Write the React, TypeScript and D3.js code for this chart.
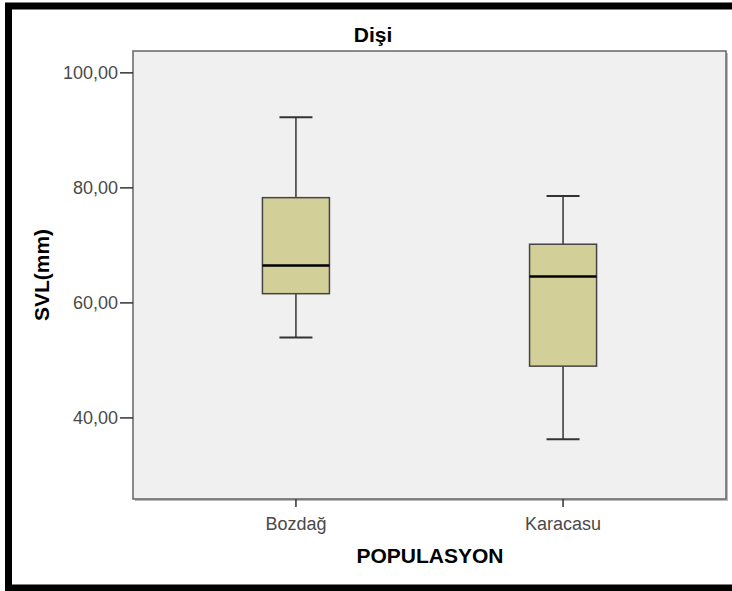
import React, { useEffect, useRef } from "react";
import * as d3 from "d3";

const categories = ["Bozdağ", "Karacasu"];
const whiskerLow = [54.0, 36.3];
const q1 = [61.6, 49.0];
const median = [66.5, 64.6];
const q3 = [78.3, 70.2];
const whiskerHigh = [92.3, 78.6];
const yTicks = [40, 60, 80, 100];

const App = () => {
  const svgRef = useRef<SVGSVGElement>(null);

  useEffect(() => {
    const W = 732;
    const plot = { left: 133, top: 51, right: 726, bottom: 499 };
    const font = "'Liberation Sans', Arial, sans-serif";

    const svg = d3.select(svgRef.current);
    svg.selectAll("*").remove();

    // outer frame (right edge falls outside the picture)
    svg
      .append("rect")
      .attr("x", 8.5)
      .attr("y", 6)
      .attr("width", W + 40)
      .attr("height", 582)
      .attr("fill", "white")
      .attr("stroke", "black")
      .attr("stroke-width", 7);

    const y = d3.scaleLinear().domain([25.9, 103.8]).range([plot.bottom, plot.top]);
    const x = d3
      .scalePoint()
      .domain(categories)
      .range([plot.left, plot.right])
      .padding(0.61);

    // plot area with a little shadow on right / bottom
    svg
      .append("path")
      .attr("d", `M${plot.right + 1},${plot.top + 2}V${plot.bottom + 1}H${plot.left + 2}`)
      .attr("fill", "none")
      .attr("stroke", "#bbb")
      .attr("stroke-width", 2);
    svg
      .append("rect")
      .attr("x", plot.left)
      .attr("y", plot.top)
      .attr("width", plot.right - plot.left)
      .attr("height", plot.bottom - plot.top)
      .attr("fill", "#f0f0f0")
      .attr("stroke", "#666")
      .attr("stroke-width", 1.5);

    // y axis ticks
    const yAxis = svg.append("g");
    yTicks.forEach((t) => {
      yAxis
        .append("line")
        .attr("x1", plot.left - 13)
        .attr("x2", plot.left)
        .attr("y1", y(t))
        .attr("y2", y(t))
        .attr("stroke", "#333")
        .attr("stroke-width", 1.5);
      yAxis
        .append("text")
        .attr("x", plot.left - 15)
        .attr("y", y(t))
        .attr("dy", "0.36em")
        .attr("text-anchor", "end")
        .attr("font-family", font)
        .attr("font-size", 18)
        .attr("fill", "#4a4a4a")
        .text(d3.format(".2f")(t).replace(".", ","));
    });

    // x axis ticks
    categories.forEach((c) => {
      svg
        .append("line")
        .attr("x1", x(c)!)
        .attr("x2", x(c)!)
        .attr("y1", plot.bottom)
        .attr("y2", plot.bottom + 8)
        .attr("stroke", "#333")
        .attr("stroke-width", 1.5);
      svg
        .append("text")
        .attr("x", x(c)!)
        .attr("y", 530)
        .attr("text-anchor", "middle")
        .attr("font-family", font)
        .attr("font-size", 18)
        .attr("fill", "#4a4a4a")
        .text(c);
    });

    const boxW = 67;
    const capW = 33;
    const boxes = svg
      .selectAll(".box")
      .data(categories)
      .enter()
      .append("g")
      .attr("class", "box");

    boxes
      .append("line")
      .attr("x1", (d) => x(d)!)
      .attr("x2", (d) => x(d)!)
      .attr("y1", (d, i) => y(whiskerHigh[i]))
      .attr("y2", (d, i) => y(whiskerLow[i]))
      .attr("stroke", "#333")
      .attr("stroke-width", 1.5);

    [whiskerHigh, whiskerLow].forEach((arr) => {
      boxes
        .append("line")
        .attr("x1", (d) => x(d)! - capW / 2)
        .attr("x2", (d) => x(d)! + capW / 2)
        .attr("y1", (d, i) => y(arr[i]))
        .attr("y2", (d, i) => y(arr[i]))
        .attr("stroke", "#333")
        .attr("stroke-width", 2);
    });

    boxes
      .append("rect")
      .attr("x", (d) => x(d)! - boxW / 2)
      .attr("width", boxW)
      .attr("y", (d, i) => y(q3[i]))
      .attr("height", (d, i) => y(q1[i]) - y(q3[i]))
      .attr("fill", "#d3cf98")
      .attr("stroke", "#444")
      .attr("stroke-width", 1.5);

    boxes
      .append("line")
      .attr("x1", (d) => x(d)! - boxW / 2)
      .attr("x2", (d) => x(d)! + boxW / 2)
      .attr("y1", (d, i) => y(median[i]))
      .attr("y2", (d, i) => y(median[i]))
      .attr("stroke", "#000")
      .attr("stroke-width", 2.5);

    // titles
    svg
      .append("text")
      .attr("x", 373)
      .attr("y", 41.5)
      .attr("text-anchor", "middle")
      .attr("font-family", font)
      .attr("font-size", 21)
      .attr("font-weight", "bold")
      .text("Dişi");

    svg
      .append("text")
      .attr("x", 430)
      .attr("y", 563)
      .attr("text-anchor", "middle")
      .attr("font-family", font)
      .attr("font-size", 21)
      .attr("font-weight", "bold")
      .text("POPULASYON");

    svg
      .append("text")
      .attr("transform", `translate(49, ${(plot.top + plot.bottom) / 2}) rotate(-90)`)
      .attr("text-anchor", "middle")
      .attr("font-family", font)
      .attr("font-size", 21)
      .attr("font-weight", "bold")
      .text("SVL(mm)");
  }, []);

  return (
    <svg
      ref={svgRef}
      width={732}
      height={591}
      style={{ position: "absolute", left: 0, top: 0, background: "white" }}
    />
  );
};

export default App;
